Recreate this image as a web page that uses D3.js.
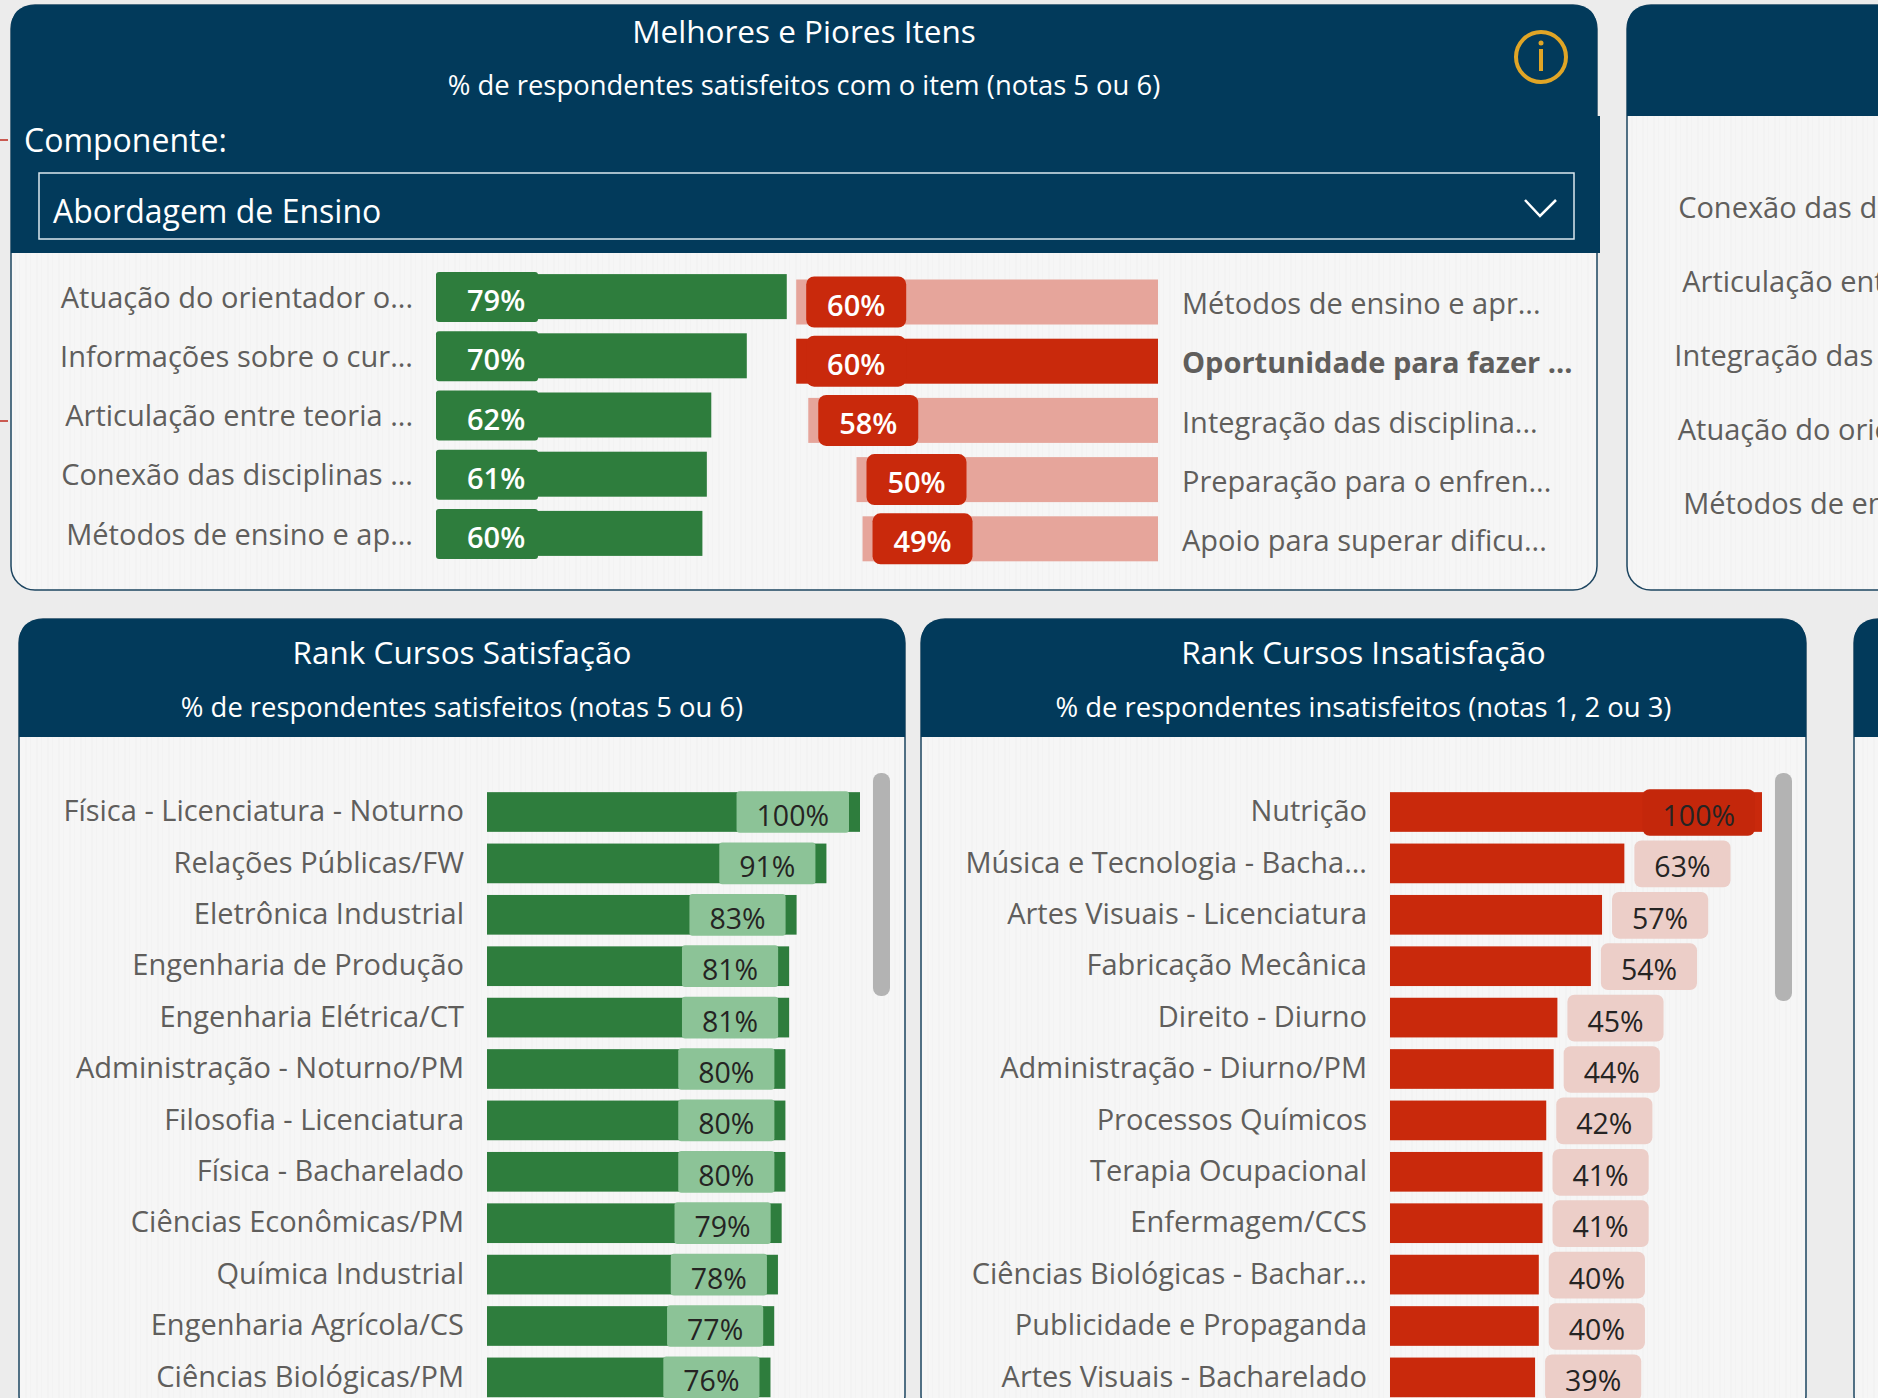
<!DOCTYPE html>
<html>
<head>
<meta charset="utf-8">
<script src="https://cdn.jsdelivr.net/npm/d3@7"></script>
<style>
  html, body { margin: 0; padding: 0; background: #efefef; overflow: hidden; }
  svg { display: block; font-family: "Open Sans", "Noto Sans", sans-serif; }
  .axis text { fill: #605e5c; }
</style>
</head>
<body>
<svg id="chart" width="1878" height="1398"></svg>
<script>
// Melhores e Piores Itens
const bestItems = ['Atuação do orientador o...', 'Informações sobre o cur...', 'Articulação entre teoria ...', 'Conexão das disciplinas ...', 'Métodos de ensino e ap...'];
const bestValues = [79, 70, 62, 61, 60];
const worstItems = ['Métodos de ensino e apr...', 'Oportunidade para fazer ...', 'Integração das disciplina...', 'Preparação para o enfren...', 'Apoio para superar dificu...'];
const worstValues = [60, 60, 58, 50, 49];
const nextPanelItems = ['Conexão das disciplinas ...', 'Articulação entre teoria ...', 'Integração das disciplina...', 'Atuação do orientador o...', 'Métodos de ensino e ap...'];

// Rank Cursos
const satCourses = ['Física - Licenciatura - Noturno', 'Relações Públicas/FW', 'Eletrônica Industrial', 'Engenharia de Produção', 'Engenharia Elétrica/CT', 'Administração - Noturno/PM', 'Filosofia - Licenciatura', 'Física - Bacharelado', 'Ciências Econômicas/PM', 'Química Industrial', 'Engenharia Agrícola/CS', 'Ciências Biológicas/PM'];
const satValues = [100, 91, 83, 81, 81, 80, 80, 80, 79, 78, 77, 76];
const insatCourses = ['Nutrição', 'Música e Tecnologia - Bacha...', 'Artes Visuais - Licenciatura', 'Fabricação Mecânica', 'Direito - Diurno', 'Administração - Diurno/PM', 'Processos Químicos', 'Terapia Ocupacional', 'Enfermagem/CCS', 'Ciências Biológicas - Bachar...', 'Publicidade e Propaganda', 'Artes Visuais - Bacharelado'];
const insatValues = [100, 63, 57, 54, 45, 44, 42, 41, 41, 40, 40, 39];

const navy = '#023a5b';
const green = '#2e7d3d';
const greenChip = '#8cc397';
const red = '#c9290c';
const redPale = '#e6a59b';
const redChip = '#eccec8';
const labelSize = 29;

const svg = d3.select('#chart');

// Faint vertical grain of the report background
const defs = svg.append('defs');
const grain = defs.append('pattern').attr('id', 'grain')
  .attr('patternUnits', 'userSpaceOnUse').attr('width', 11).attr('height', 40);
grain.append('rect').attr('width', 11).attr('height', 40).attr('fill', '#f6f6f6');
grain.append('rect').attr('x', 3).attr('width', 2).attr('height', 40).attr('fill', '#f3f3f3');
grain.append('rect').attr('x', 8).attr('width', 1).attr('height', 40).attr('fill', '#f3f3f3');

svg.append('rect').attr('width', 1878).attr('height', 1398).attr('fill', '#ececec');

// The two red guide ticks at the left edge
[140, 421].forEach(y => {
  svg.append('line').attr('x1', 0).attr('x2', 8).attr('y1', y).attr('y2', y)
    .attr('stroke', '#bf2a1e').attr('stroke-width', 1.5);
});

function panel(x, y, w, h, headerH, title, subtitle, titleY, subY) {
  const r = 24;
  svg.append('rect').attr('x', x).attr('y', y).attr('width', w).attr('height', h)
    .attr('rx', r).attr('fill', 'url(#grain)').attr('stroke', '#1d4560').attr('stroke-width', 1.5);
  svg.append('path')
    .attr('d', `M${x},${y + headerH}V${y + r}Q${x},${y} ${x + r},${y}H${x + w - r}Q${x + w},${y} ${x + w},${y + r}V${y + headerH}Z`)
    .attr('fill', navy);
  const cx = x + w / 2;
  if (title) {
    svg.append('text').attr('x', cx).attr('y', titleY).attr('text-anchor', 'middle')
      .attr('dominant-baseline', 'central').attr('fill', '#fff').attr('font-size', 31.5).text(title);
    svg.append('text').attr('x', cx).attr('y', subY).attr('text-anchor', 'middle')
      .attr('dominant-baseline', 'central').attr('fill', '#fff').attr('font-size', 27.4).text(subtitle);
  }
}

function labelAxis(scale, x, anchorLeft, size, shiftY = 0) {
  const axis = anchorLeft ? d3.axisLeft(scale) : d3.axisRight(scale);
  const g = svg.append('g').attr('class', 'axis')
    .attr('transform', `translate(${x},${shiftY})`)
    .call(axis.tickSize(0).tickPadding(0));
  g.select('.domain').remove();
  g.selectAll('text').attr('font-size', size).attr('font-family', '"Open Sans", sans-serif');
  return g;
}

// ---- Top left panel ----
panel(11, 5, 1586, 585, 248, 'Melhores e Piores Itens', '% de respondentes satisfeitos com o item (notas 5 ou 6)', 30, 84);
svg.append('rect').attr('x', 1590).attr('y', 116).attr('width', 10).attr('height', 137).attr('fill', navy);
svg.append('text').attr('x', 24).attr('y', 139).attr('dominant-baseline', 'central')
  .attr('fill', '#fff').attr('font-size', 32).text('Componente:');
svg.append('rect').attr('x', 39).attr('y', 173).attr('width', 1535).attr('height', 66)
  .attr('fill', 'none').attr('stroke', '#dbe7ee').attr('stroke-width', 1.5);
svg.append('text').attr('x', 53).attr('y', 210).attr('dominant-baseline', 'central')
  .attr('fill', '#fff').attr('font-size', 32).text('Abordagem de Ensino');
svg.append('path').attr('d', 'M1525,200L1540,216L1556,200')
  .attr('fill', 'none').attr('stroke', '#fff').attr('stroke-width', 2.5);

// info icon
const info = svg.append('g').attr('transform', 'translate(1541,57)');
info.append('circle').attr('r', 25).attr('fill', 'none').attr('stroke', '#e0a526').attr('stroke-width', 4);
info.append('rect').attr('x', -2).attr('y', -8).attr('width', 4).attr('height', 22).attr('fill', '#e0a526');
info.append('circle').attr('cy', -14).attr('r', 2.5).attr('fill', '#e0a526');

// best items
const bestX = d3.scaleLinear().domain([0, 100]).range([436, 880]);
const bestY = d3.scaleBand().domain(bestItems).range([267, 563]).paddingInner(0.24).paddingOuter(0.12);
labelAxis(bestY, 413, true, labelSize, 2);
const bestRow = svg.append('g').selectAll('g').data(bestItems).join('g');
bestRow.append('rect')
  .attr('x', bestX(0)).attr('y', d => bestY(d))
  .attr('width', (d, i) => bestX(bestValues[i]) - bestX(0))
  .attr('height', bestY.bandwidth()).attr('fill', green);
bestRow.append('rect')
  .attr('x', bestX(0)).attr('y', d => bestY(d) - 2)
  .attr('width', 102).attr('height', bestY.bandwidth() + 5).attr('rx', 3).attr('fill', green);
bestRow.append('text')
  .attr('x', bestX(0) + 31).attr('y', d => bestY(d) + bestY.bandwidth() / 2 + 3)
  .attr('dominant-baseline', 'central').attr('fill', '#fff')
  .attr('font-size', labelSize).attr('font-weight', 600)
  .text((d, i) => bestValues[i] + '%');

// worst items
const worstX = d3.scaleLinear().domain([0, 100]).range([1158, 555]);
const worstY = d3.scaleBand().domain(worstItems).range([272.4, 568.4]).paddingInner(0.24).paddingOuter(0.12);
const worstAxis = labelAxis(worstY, 1182, false, labelSize, 3);
worstAxis.selectAll('text').attr('font-weight', d => d.startsWith('Oportunidade') ? 700 : 400);
const worstRow = svg.append('g').selectAll('g').data(worstItems).join('g');
worstRow.append('rect')
  .attr('x', (d, i) => worstX(worstValues[i])).attr('y', d => worstY(d))
  .attr('width', (d, i) => worstX(0) - worstX(worstValues[i]))
  .attr('height', worstY.bandwidth())
  .attr('fill', d => d.startsWith('Oportunidade') ? red : redPale);
worstRow.append('rect')
  .attr('x', (d, i) => worstX(worstValues[i]) + 10).attr('y', d => worstY(d) - 3)
  .attr('width', 100).attr('height', worstY.bandwidth() + 6).attr('rx', 8).attr('fill', red);
worstRow.append('text')
  .attr('x', (d, i) => worstX(worstValues[i]) + 60).attr('y', d => worstY(d) + worstY.bandwidth() / 2 + 2)
  .attr('text-anchor', 'middle').attr('dominant-baseline', 'central').attr('fill', '#fff')
  .attr('font-size', labelSize).attr('font-weight', 600)
  .text((d, i) => worstValues[i] + '%');

// ---- Top right panel, cut by the edge of the picture ----
panel(1627, 5, 400, 585, 111);
const nextY = d3.scaleBand().domain(nextPanelItems).range([170, 540]).paddingInner(0.24).paddingOuter(0.12);
labelAxis(nextY, 2030, true, labelSize, 2);

// ---- Rank panels ----
function rankChart(cats, vals, x0, x1, labelX, isGood, barX, barH) {
  const x = d3.scaleLinear().domain([0, 100]).range([x0, x1]);
  const y = d3.scaleBand().domain(cats).range([786.3, 1403.1]).paddingInner(0.228).paddingOuter(0.114);
  labelAxis(y, labelX, true, labelSize);
  const row = svg.append('g').selectAll('g').data(cats).join('g');
  row.append('rect')
    .attr('x', x0).attr('y', d => y(d))
    .attr('width', (d, i) => x(vals[i]) - x0)
    .attr('height', y.bandwidth()).attr('fill', isGood ? green : red);
  const chip = row.append('rect').attr('rx', isGood ? 3 : 7);
  const txt = row.append('text')
    .attr('y', d => y(d) + y.bandwidth() / 2 + 3)
    .attr('text-anchor', 'middle').attr('dominant-baseline', 'central')
    .attr('fill', '#252423').attr('font-size', labelSize - 0.5)
    .text((d, i) => vals[i] + '%');
  txt.each(function (d, i) {
    const w = this.getComputedTextLength() + 40;
    // the label stays inside the bar when it would not fit after it
    const full = vals[i] === 100;
    const cx = (isGood || full) ? x(vals[i]) - (isGood ? 11 : 7) - w / 2 : x(vals[i]) + 10 + w / 2;
    d3.select(this).attr('x', cx);
    chip.filter(c => c === d)
      .attr('x', cx - w / 2).attr('width', w)
      .attr('y', y(d) - (isGood ? 1 : 3)).attr('height', y.bandwidth() + (isGood ? 2 : 7))
      .attr('fill', isGood ? greenChip : (full ? '#c4270b' : redChip));
  });
  // scrollbar
  svg.append('rect').attr('x', barX).attr('y', 773).attr('width', 17).attr('height', barH)
    .attr('rx', 8).attr('fill', '#b3b3b3');
}

panel(19, 619, 886, 800, 118, 'Rank Cursos Satisfação', '% de respondentes satisfeitos (notas 5 ou 6)', 651, 706);
rankChart(satCourses, satValues, 487, 860, 464, true, 873, 223);

panel(921, 619, 885, 800, 118, 'Rank Cursos Insatisfação', '% de respondentes insatisfeitos (notas 1, 2 ou 3)', 651, 706);
rankChart(insatCourses, insatValues, 1390, 1762, 1367, false, 1775, 228);

panel(1854, 619, 200, 800, 118);
</script>
</body>
</html>
